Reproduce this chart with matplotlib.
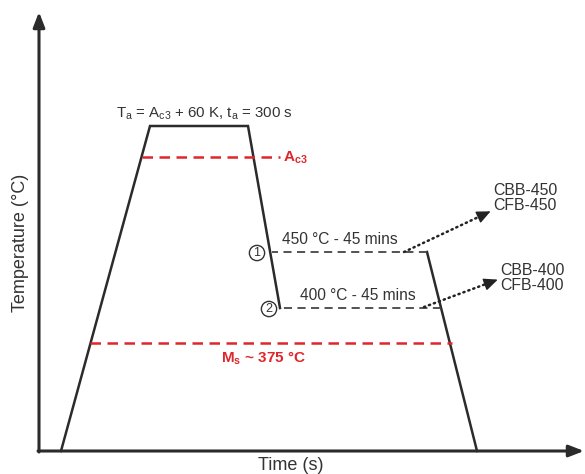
import matplotlib
matplotlib.use("Agg")
import matplotlib.pyplot as plt
import numpy as np

plt.rcParams['font.family'] = ['Liberation Sans', 'DejaVu Sans']

# Schematic heat-treatment profile (arbitrary time / temperature units)
heat_t = [61, 150, 248, 280]
heat_T = [23, 348, 348, 166]

cool_450_t = [427, 477]
cool_450_T = [222, 23]

# Isothermal holds, listed from the end of the hold back to its start
hold_450_t = [427, 272]
hold_450_T = [222, 222]

hold_400_t = [441, 280]
hold_400_T = [166, 166]

ac3_t = [142, 280]
ac3_T = [317, 317]

ms_t = [90, 452]
ms_T = [131, 131]

# Dotted leaders to the sample labels
lead_450 = [(404, 222), (487, 261)]
lead_400 = [(424, 167), (494, 193)]

INK = "#2b2b2b"
RED = "#e0262b"
TXT = "#333333"

fig = plt.figure(figsize=(5.85, 4.74), dpi=100)
ax = fig.add_axes([0, 0, 1, 1])
ax.set_xlim(0, 585)
ax.set_ylim(0, 474)
ax.axis("off")

# Axes with arrowheads
ax.annotate("", xy=(39, 462), xytext=(39, 22),
            arrowprops=dict(arrowstyle="-|>,head_length=0.9,head_width=0.35",
                            color=INK, lw=2.2, shrinkA=0, shrinkB=0))
ax.annotate("", xy=(584, 23), xytext=(38, 23),
            arrowprops=dict(arrowstyle="-|>,head_length=0.9,head_width=0.35",
                            color=INK, lw=2.2, shrinkA=0, shrinkB=0))

# Profile
ax.plot(heat_t, heat_T, color=INK, lw=1.8, solid_joinstyle="miter")
ax.plot(cool_450_t, cool_450_T, color=INK, lw=1.8)
ax.plot(hold_450_t, hold_450_T, color="#444444", lw=1.3, dashes=(4.5, 3))
ax.plot(hold_400_t, hold_400_T, color="#444444", lw=1.3, dashes=(4.5, 3))

# Critical temperatures
ax.plot(ac3_t, ac3_T, color=RED, lw=1.8, dashes=(4.2, 2.6))
ax.plot(ms_t, ms_T, color=RED, lw=1.8, dashes=(4.2, 2.6))

ax.text(283, ac3_T[0] - 1, r"A$_{\mathregular{c3}}$", color=RED, fontsize=11,
        fontweight="bold", va="center", ha="left")
ax.text(263, 116, r"M$_{\mathregular{s}}$ ~ 375 °C", color=RED, fontsize=11,
        fontweight="bold", va="center", ha="center")

ax.text(204, 360, r"T$_{\mathregular{a}}$ = A$_{\mathregular{c3}}$ + 60 K, t$_{\mathregular{a}}$ = 300 s",
        color=TXT, fontsize=10.8, va="center", ha="center")

ax.text(340, 227, "450 °C - 45 mins", color=TXT, fontsize=11.2, va="bottom", ha="center")
ax.text(358, 171, "400 °C - 45 mins", color=TXT, fontsize=11.2, va="bottom", ha="center")

# Route markers
for cx, cy, lab in [(257, 221, "1"), (269, 165, "2")]:
    ax.text(cx, cy, lab, color=TXT, fontsize=9, ha="center", va="center",
            bbox=dict(boxstyle="circle,pad=0.13", fc="white", ec=TXT, lw=1.0))

# Dotted leaders with solid heads
for (p0, p1) in [lead_450, lead_400]:
    (x0, y0), (x1, y1) = p0, p1
    ax.plot([x0, x1], [y0, y1], color="#222222", lw=1.8,
            linestyle=(0, (0.5, 1.6)), dash_capstyle="round")
    d = np.hypot(x1 - x0, y1 - y0)
    back = (x1 - (x1 - x0) * 6 / d, y1 - (y1 - y0) * 6 / d)
    ax.annotate("", xy=(x1 + (x1 - x0) * 4 / d, y1 + (y1 - y0) * 4 / d), xytext=back,
                arrowprops=dict(arrowstyle="-|>,head_length=0.85,head_width=0.38",
                                color="#222222", lw=1.0, shrinkA=0, shrinkB=0))

ax.text(493, 276, "CBB-450\nCFB-450", color=TXT, fontsize=11.4, ha="left",
        va="center", linespacing=1.0)
ax.text(500, 196, "CBB-400\nCFB-400", color=TXT, fontsize=11.4, ha="left",
        va="center", linespacing=1.0)

# Axis titles
ax.text(291, 8, "Time (s)", color=TXT, fontsize=13, ha="center", va="center")
ax.text(21, 231, "Temperature (°C)", color=TXT, fontsize=13, ha="center",
        va="center", rotation=90)

fig.savefig("out.png", dpi=100)
